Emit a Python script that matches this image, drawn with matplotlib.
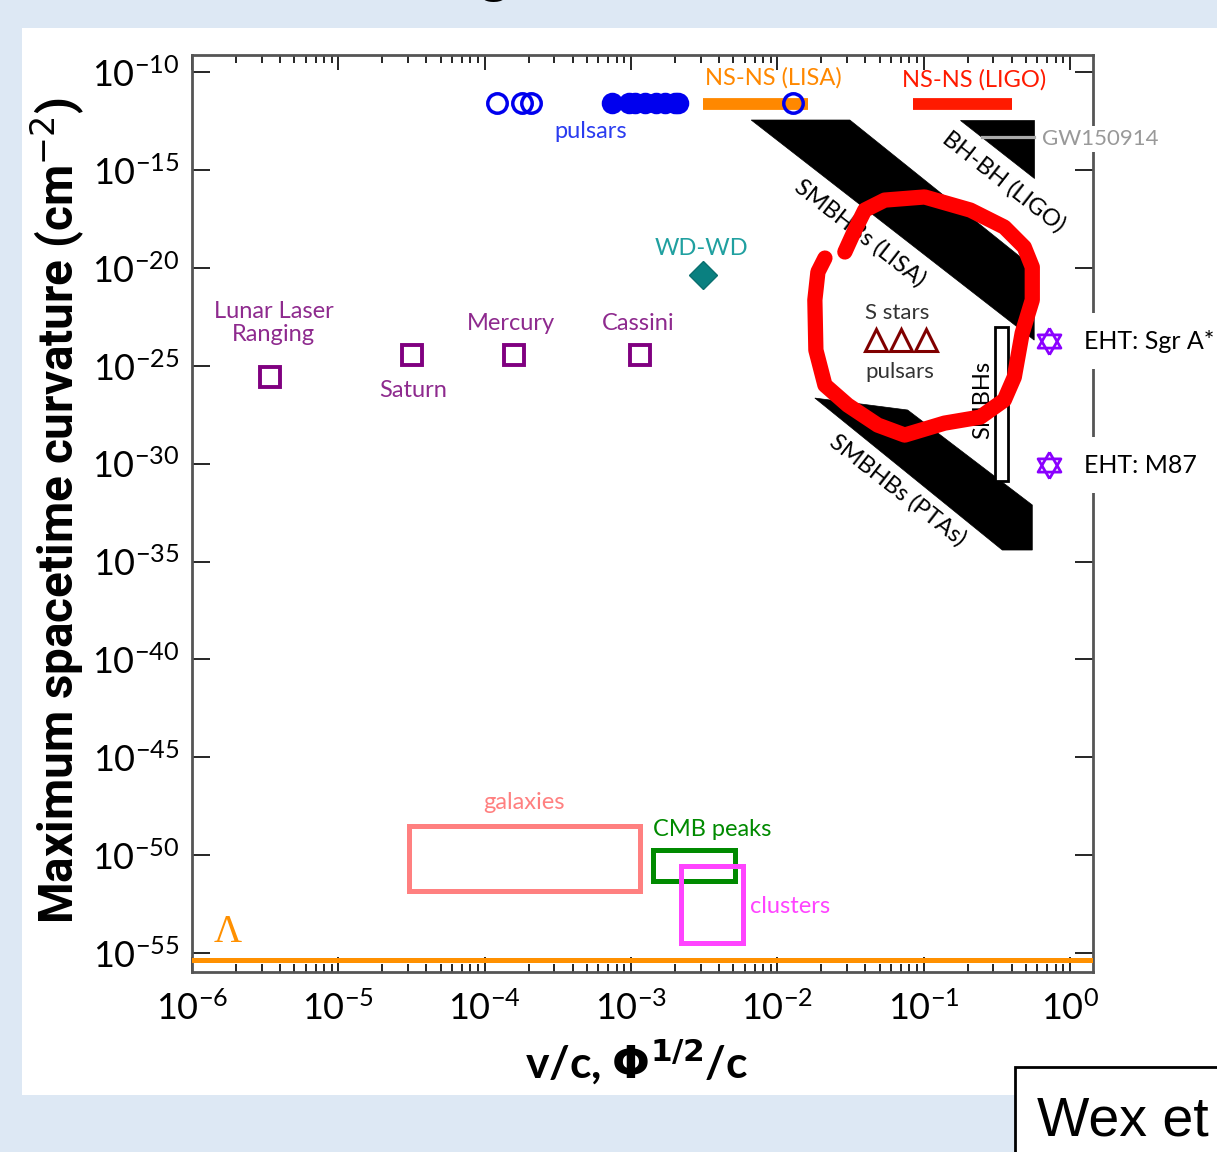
import numpy as np
import matplotlib
matplotlib.use("Agg")
import matplotlib.pyplot as plt
from matplotlib.patches import Rectangle, Polygon
from matplotlib.ticker import NullLocator, LogLocator

plt.rcParams['font.family'] = ['Lato', 'DejaVu Sans']

# all values below are log10 of (v/c) and log10 of curvature
pulsar_open_logv = [-3.916, -3.745, -3.684, -1.892]
pulsar_filled_logv = [-3.132, -3.016, -2.969, -2.901, -2.832, -2.764, -2.696, -2.676]
pulsar_logR = -11.58

nsns_lisa_logv = [-2.505, -1.790]
nsns_ligo_logv = [-1.075, -0.394]
nsns_logR = -11.63

gw150914_logv = [-0.598, -0.244]
gw150914_logR = -13.32

smbhb_lisa_logv = [-2.178, -1.504, -0.244, -0.244]
smbhb_lisa_logR = [-12.45, -12.45, -20.01, -23.69]
bhbh_ligo_logv = [-0.748, -0.244, -0.244]
bhbh_ligo_logR = [-12.45, -12.45, -15.41]
smbhb_pta_logv = [-1.743, -1.109, -0.257, -0.257, -0.462]
smbhb_pta_logR = [-26.65, -27.26, -32.11, -34.41, -34.41]

smbh_logv = [-0.510, -0.421]
smbh_logR = [-30.89, -23.02]

sstar_logv = [-1.327, -1.157, -0.986]
sstar_logR = -23.69

eht_names = ['EHT: Sgr A*', 'EHT: M87']
eht_logv = [-0.142, -0.142]
eht_logR = [-23.74, -30.07]

wdwd_logv = -2.505
wdwd_logR = -20.37

solar_names = ['Lunar Laser\nRanging', 'Saturn', 'Mercury', 'Cassini']
solar_logv = [-5.469, -4.495, -3.800, -2.941]
solar_logR = [-25.58, -24.45, -24.45, -24.45]

galaxies_logv = [-4.515, -2.941]
galaxies_logR = [-51.83, -48.51]
cmb_logv = [-2.846, -2.287]
cmb_logR = [-51.32, -49.73]
clusters_logv = [-2.655, -2.233]
clusters_logR = [-54.48, -50.55]

lambda_logR = -55.35

# hand-drawn red highlight round the S-star region
ring_logv = [-1.538, -1.470, -1.402, -1.266, -0.993, -0.680, -0.448, -0.312, -0.257,
             -0.257, -0.326, -0.380, -0.448, -0.612, -0.857, -1.129, -1.313, -1.518,
             -1.674, -1.736, -1.743, -1.722, -1.674]
ring_logR = [-19.19, -18.07, -17.05, -16.54, -16.38, -17.05, -17.92, -18.94, -19.96,
             -21.64, -23.33, -25.58, -26.75, -27.62, -27.93, -28.54, -28.03, -27.01,
             -25.99, -24.20, -21.64, -20.21, -19.50]

x_decades = list(range(-6, 1))
y_decades = list(range(-55, -9, 5))

W, H = 1217, 1152
fig = plt.figure(figsize=(W / 100, H / 100), dpi=100, facecolor='#dde8f4')

# white slide panel and the clipped citation box
fig.add_artist(Rectangle((22 / W, 57 / H), 1, 1 - 85 / H, transform=fig.transFigure,
                         facecolor='white', edgecolor='none', zorder=-5))
fig.add_artist(Rectangle((1015 / W, -0.1), 0.3, 0.1 + 85 / H, transform=fig.transFigure,
                         facecolor='white', edgecolor='black', lw=2, zorder=5))
fig.text(1037 / W, 1 - 1135 / H, 'Wex et al.', fontsize=40, family=['Liberation Sans'],
         va='baseline', ha='left', zorder=6)
fig.text(493 / W, 1 + 12 / H, 'g', fontsize=50, va='baseline', ha='center',
         family=['Liberation Sans'])

ax = fig.add_axes([192 / W, 180 / H, 901 / W, 917 / H])
ax.set_xscale('log')
ax.set_yscale('log')
ax.set_xlim(1e-6, 10 ** 0.158)
ax.set_ylim(10 ** -55.96, 10 ** -9.13)

p = lambda v: 10.0 ** np.asarray(v, dtype=float)

# pulsars
ax.plot(p(pulsar_filled_logv), p([pulsar_logR] * len(pulsar_filled_logv)), 'o', ms=14,
        mfc='#0000ee', mec='#0000ee', mew=1.5, ls='none', zorder=6)
ax.plot(p(pulsar_open_logv), p([pulsar_logR] * len(pulsar_open_logv)), 'o', ms=14,
        mfc='none', mec='#0000ee', mew=2.5, ls='none', zorder=6)
ax.text(10 ** -3.275, 10 ** -13.06, 'pulsars', color='#2a3cf0', fontsize=17,
        ha='center', va='center')

# NS-NS bars
ax.plot(p(nsns_lisa_logv), p([nsns_logR] * 2), color='#ff8800', lw=8.5,
        solid_capstyle='butt', zorder=5)
ax.plot(p(nsns_ligo_logv), p([nsns_logR] * 2), color='#ff1a00', lw=8.5,
        solid_capstyle='butt', zorder=5)
ax.text(10 ** -2.029, 10 ** -10.31, 'NS-NS (LISA)', color='#ff8800', fontsize=17,
        ha='center', va='center')
ax.text(10 ** -0.653, 10 ** -10.41, 'NS-NS (LIGO)', color='#ff1a00', fontsize=17,
        ha='center', va='center')

# black GW bands
for lv, lr in [(smbhb_lisa_logv, smbhb_lisa_logR), (bhbh_ligo_logv, bhbh_ligo_logR),
               (smbhb_pta_logv, smbhb_pta_logR)]:
    ax.add_patch(Polygon(np.column_stack([p(lv), p(lr)]), closed=True,
                         facecolor='black', edgecolor='black', lw=0.5, zorder=3))
ax.plot(p(gw150914_logv), p([gw150914_logR] * 2), color='#aaaaaa', lw=2.3, zorder=4)
ax.text(10 ** -0.189, 10 ** -13.42, 'GW150914', color='#999999', fontsize=16,
        ha='left', va='center', clip_on=False,
        bbox=dict(facecolor='white', edgecolor='none', pad=2))

ax.text(10 ** -1.436, 10 ** -18.22, 'SMBHBs (LISA)', fontsize=17, rotation=-38,
        rotation_mode='anchor', ha='center', va='center')
ax.text(10 ** -0.448, 10 ** -15.62, 'BH-BH (LIGO)', fontsize=17, rotation=-38,
        rotation_mode='anchor', ha='center', va='center')
ax.text(10 ** -1.177, 10 ** -31.35, 'SMBHBs (PTAs)', fontsize=17, rotation=-38,
        rotation_mode='anchor', ha='center', va='center')

# SMBHs box
ax.add_patch(Rectangle((p(smbh_logv[0]), p(smbh_logR[0])),
                       p(smbh_logv[1]) - p(smbh_logv[0]), p(smbh_logR[1]) - p(smbh_logR[0]),
                       facecolor='white', edgecolor='black', lw=2, zorder=4))
ax.text(10 ** -0.598, 10 ** -26.75, 'SMBHs', fontsize=17, rotation=90,
        ha='center', va='center')

# S stars
ax.plot(p(sstar_logv), p([sstar_logR] * 3), '^', ms=16, mfc='none', mec='#800000',
        mew=2.2, ls='none', zorder=6)
ax.text(10 ** -1.177, 10 ** -22.31, 'S stars', color='#333333', fontsize=16,
        ha='center', va='center')
ax.text(10 ** -1.163, 10 ** -25.32, 'pulsars', color='#333333', fontsize=16,
        ha='center', va='center')

# EHT hexagrams
tri_up = [(0, 1), (-0.866, -0.5), (0.866, -0.5), (0, 1)]
tri_dn = [(0, -1), (-0.866, 0.5), (0.866, 0.5), (0, -1)]
for m in (tri_up, tri_dn):
    ax.plot(p(eht_logv), p(eht_logR), marker=m, ms=19, mfc='none', mec='#8a00ff',
            mew=2, ls='none', clip_on=False, zorder=6)
for name, lv, lr in zip(eht_names, eht_logv, eht_logR):
    ax.text(10 ** (lv + 0.24), 10 ** lr, name, fontsize=18, ha='left', va='center',
            clip_on=False, zorder=7,
            bbox=dict(facecolor='white', edgecolor='none', pad=12))

# WD-WD
ax.plot(10 ** wdwd_logv, 10 ** wdwd_logR, 'D', ms=14, mfc='#0a8080', mec='#0a6f6f',
        mew=1, zorder=6)
ax.text(10 ** -2.519, 10 ** -18.99, 'WD-WD', color='#20a0a0', fontsize=17,
        ha='center', va='center')

# solar system tests
ax.plot(p(solar_logv), p(solar_logR), 's', ms=15, mfc='none', mec='#800080',
        mew=2.8, ls='none', zorder=6)
solar_label_pos = [(-5.441, -22.82), (-4.488, -26.24), (-3.820, -22.82), (-2.948, -22.82)]
for name, (lv, lr) in zip(solar_names, solar_label_pos):
    ax.text(10 ** lv, 10 ** lr, name, color='#8e2a8e', fontsize=17, ha='center',
            va='center', linespacing=1.1)

# cosmological boxes
for lv, lr, col in [(galaxies_logv, galaxies_logR, '#ff8080'),
                    (cmb_logv, cmb_logR, '#008a00'),
                    (clusters_logv, clusters_logR, '#ff44ff')]:
    x0, x1 = p(lv)
    y0, y1 = p(lr)
    ax.add_patch(Rectangle((x0, y0), x1 - x0, y1 - y0, facecolor='none',
                           edgecolor=col, lw=3.6, zorder=4))
ax.text(10 ** -3.732, 10 ** -47.28, 'galaxies', color='#ff8080', fontsize=17,
        ha='center', va='center')
ax.text(10 ** -2.444, 10 ** -48.66, 'CMB peaks', color='#008a00', fontsize=17,
        ha='center', va='center')
ax.text(10 ** -2.185, 10 ** -52.59, 'clusters', color='#ff44ff', fontsize=17,
        ha='left', va='center')

# cosmological constant
ax.axhline(10 ** lambda_logR, color='#ff9000', lw=3.6, zorder=5)
ax.text(10 ** -5.755, 10 ** -53.92, 'Λ', color='#ff9000', fontsize=28,
        family=['Liberation Serif'], ha='center', va='center')

# red highlight
ax.plot(p(ring_logv), p(ring_logR), color='#ff0000', lw=11, solid_joinstyle='round',
        solid_capstyle='round', zorder=8)

# axes styling
ax.set_xticks([10.0 ** d for d in x_decades])
ax.xaxis.set_minor_locator(LogLocator(base=10, subs=np.arange(2, 10), numticks=50))
ax.set_yticks([10.0 ** d for d in y_decades])
ax.yaxis.set_minor_locator(NullLocator())
ax.tick_params(axis='both', which='both', direction='in', top=True, right=True,
               colors='black', width=1.2)
ax.tick_params(axis='x', which='major', length=11, labelsize=26, pad=13)
ax.tick_params(axis='x', which='minor', length=6)
ax.tick_params(axis='y', which='major', length=13, labelsize=26, pad=9)
for s in ax.spines.values():
    s.set_color('#555555')
    s.set_linewidth(2)

ylab = fig.text(57 / W, 1 - 511 / H, 'Maximum spacetime curvature (cm$^{-2}$)',
                rotation=90, ha='center', va='center', fontsize=34, fontweight='bold',
                family=['Roboto', 'DejaVu Sans'])
# shrink the label until it spans the same height as in the reference
fig.canvas.draw()
span = ylab.get_window_extent().height
ylab.set_fontsize(34 * 827 / span)

fig.text(637 / W, 1 - 1062 / H, r'v/c, $\mathbf{\Phi^{1/2}}$/c', ha='center',
         va='center', fontsize=32, fontweight='bold')

fig.savefig('out.png', dpi=100, facecolor=fig.get_facecolor())
